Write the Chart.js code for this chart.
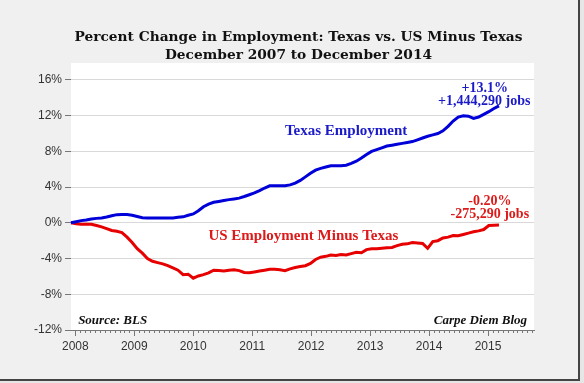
<!DOCTYPE html>
<html><head><meta charset="utf-8">
<script src="https://cdn.jsdelivr.net/npm/chart.js@4.4.1/dist/chart.umd.min.js"></script>
<style>html,body{margin:0;padding:0;background:#f0f0f0;}#wrap{width:584px;height:383px;position:relative}</style>
</head><body><div id="wrap"><canvas id="c" width="584" height="383"></canvas></div>
<script>
// Monthly percent change since December 2007 (index 0 = Dec 2007 ... 84 = Dec 2014)
const texas = [0.00,0.12,0.25,0.33,0.43,0.50,0.55,0.65,0.80,0.92,0.93,0.93,
  0.85,0.72,0.58,0.55,0.55,0.55,0.55,0.55,0.55,0.62,0.67,0.85,
  1.00,1.35,1.80,2.10,2.30,2.40,2.50,2.60,2.68,2.77,2.95,3.15,
  3.35,3.60,3.90,4.15,4.15,4.15,4.15,4.25,4.45,4.75,5.15,5.55,
  5.90,6.10,6.25,6.40,6.40,6.40,6.45,6.65,6.90,7.25,7.65,8.00,
  8.20,8.40,8.60,8.70,8.80,8.90,9.00,9.10,9.30,9.50,9.70,9.85,
  10.00,10.30,10.80,11.40,11.85,12.00,11.95,11.70,11.85,12.15,12.45,12.80,13.10];
const usMinusTexas = [0.00,-0.10,-0.15,-0.15,-0.15,-0.30,-0.45,-0.65,-0.85,-0.95,-1.10,-1.60,
  -2.20,-2.90,-3.40,-4.00,-4.30,-4.45,-4.60,-4.80,-5.05,-5.30,-5.80,-5.75,
  -6.20,-5.95,-5.80,-5.60,-5.30,-5.35,-5.40,-5.30,-5.25,-5.35,-5.55,-5.60,
  -5.50,-5.40,-5.30,-5.20,-5.20,-5.25,-5.35,-5.15,-5.00,-4.90,-4.80,-4.55,
  -4.10,-3.85,-3.75,-3.60,-3.65,-3.55,-3.60,-3.45,-3.30,-3.35,-3.00,-2.90,
  -2.90,-2.85,-2.80,-2.75,-2.55,-2.40,-2.35,-2.20,-2.25,-2.30,-2.85,-2.10,
  -2.00,-1.70,-1.60,-1.42,-1.45,-1.30,-1.15,-1.00,-0.90,-0.75,-0.30,-0.28,-0.25];
const yearLabels = ['2008','2009','2010','2011','2012','2013','2014','2015'];
const yTickValues = [-12,-8,-4,0,4,8,12,16];
const titleLines = ['Percent Change in Employment: Texas vs. US Minus Texas','December 2007 to December 2014'];
const seriesNames = ['Texas Employment','US Employment Minus Texas'];
// text annotations: [text, month index, value, color, font, align]
const notes = [
  ['Texas Employment', 54, 10.3, '#1a1ac8', 'bold 15px "Liberation Serif"', 'center'],
  ['US Employment Minus Texas', 45.6, -1.45, '#dd1a1a', 'bold 15px "Liberation Serif"', 'center'],
  ['+13.1%', 81.2, 15.1, '#1a1ac8', 'bold 14px "Liberation Serif"', 'center'],
  ['+1,444,290 jobs', 81.1, 13.6, '#1a1ac8', 'bold 14px "Liberation Serif"', 'center'],
  ['-0.20%', 82.2, 2.4, '#dd1a1a', 'bold 14px "Liberation Serif"', 'center'],
  ['-275,290 jobs', 82.2, 0.9, '#dd1a1a', 'bold 14px "Liberation Serif"', 'center'],
  ['Source: BLS', 1.4, -10.95, '#111', 'italic bold 13px "Liberation Serif"', 'left'],
  ['Carpe Diem Blog', 89.5, -10.9, '#111', 'italic bold 13px "Liberation Serif"', 'right']
];

const toPts = arr => arr.map((v,i)=>({x:i,y:v}));

const bgPlugin = {
  id:'bg',
  beforeDraw(chart){
    const {ctx, chartArea:a, width, height} = chart;
    ctx.save();
    ctx.fillStyle='#f0f0f0'; ctx.fillRect(0,0,width,height);
    ctx.fillStyle='#ffffff'; ctx.fillRect(a.left,a.top,a.right-a.left,a.bottom-a.top);
    ctx.fillStyle='#e6e6e6'; ctx.fillRect(580,0,4,height); ctx.fillRect(0,381,width,2);
    ctx.fillStyle='#444'; ctx.fillRect(578,0,2,381); ctx.fillRect(0,379,580,2);
    ctx.restore();
  },
  afterDraw(chart){
    const {ctx} = chart;
    const xs = chart.scales.x;
    ctx.save();
    // minor monthly ticks on the year axis
    ctx.strokeStyle='#777'; ctx.lineWidth=1;
    const start = Math.ceil(xs.min*12), end = Math.floor(xs.max*12);
    for(let m=start;m<=end;m++){
      if(m%12===0) continue;
      const px = Math.round(xs.getPixelForValue(m/12))+0.5;
      ctx.beginPath(); ctx.moveTo(px,xs.top); ctx.lineTo(px,xs.top+3); ctx.stroke();
    }
    // title
    ctx.fillStyle='#111'; ctx.textAlign='center'; ctx.textBaseline='middle';
    ctx.font='bold 13.75px "DejaVu Serif"';
    ctx.fillText(titleLines[0], 298.5, 37);
    ctx.fillText(titleLines[1], 298.5, 55);
    // annotations
    const xd = chart.scales.xd, y = chart.scales.y;
    notes.forEach(n=>{
      ctx.font=n[4]; ctx.fillStyle=n[3]; ctx.textAlign=n[5];
      ctx.fillText(n[0], xd.getPixelForValue(n[1]), y.getPixelForValue(n[2]));
    });
    ctx.restore();
  }
};

new Chart(document.getElementById('c'), {
  type:'line',
  data:{datasets:[
    {label:seriesNames[0], data:toPts(texas), borderColor:'#0000d8', borderWidth:3, pointRadius:0, xAxisID:'xd', yAxisID:'y', clip:false, tension:0},
    {label:seriesNames[1], data:toPts(usMinusTexas), borderColor:'#e60000', borderWidth:3, pointRadius:0, xAxisID:'xd', yAxisID:'y', clip:false, tension:0}
  ]},
  options:{
    responsive:false, devicePixelRatio:1, animation:false,
    layout:{padding:{left:0,right:50,top:63,bottom:0}},
    plugins:{legend:{display:false}, title:{display:false}, tooltip:{enabled:false}},
    scales:{
      xd:{type:'linear', display:false, min:0, max:90.87},
      x:{type:'linear', position:'bottom', min:2007.927, max:2015.78,
        afterBuildTicks(s){ s.ticks = yearLabels.map(v=>({value:+v})); },
        afterFit(s){ s.height=53; s.paddingLeft=0; s.paddingRight=0; },
        ticks:{callback:(v)=>String(v), color:'#333', font:{family:'"Liberation Sans"', size:12}, padding:3, maxRotation:0, autoSkip:false},
        grid:{drawOnChartArea:false, tickLength:6, tickColor:'#777'},
        border:{display:true, color:'#777', width:1}
      },
      y:{type:'linear', position:'left', min:-12, max:17.9,
        afterBuildTicks(s){ s.ticks = yTickValues.map(v=>({value:v})); },
        afterFit(s){ s.width=71; s.paddingTop=0; s.paddingBottom=0; },
        ticks:{callback:(v)=>v+'%', color:'#333', font:{family:'"Liberation Sans"', size:12}, padding:3},
        grid:{color:(c)=> (c.tick && c.tick.value===-12) ? 'rgba(0,0,0,0)' : '#d9d9d9', lineWidth:1, tickLength:6, tickColor:'#777'},
        border:{display:false}
      }
    }
  },
  plugins:[bgPlugin]
});
</script></body></html>
